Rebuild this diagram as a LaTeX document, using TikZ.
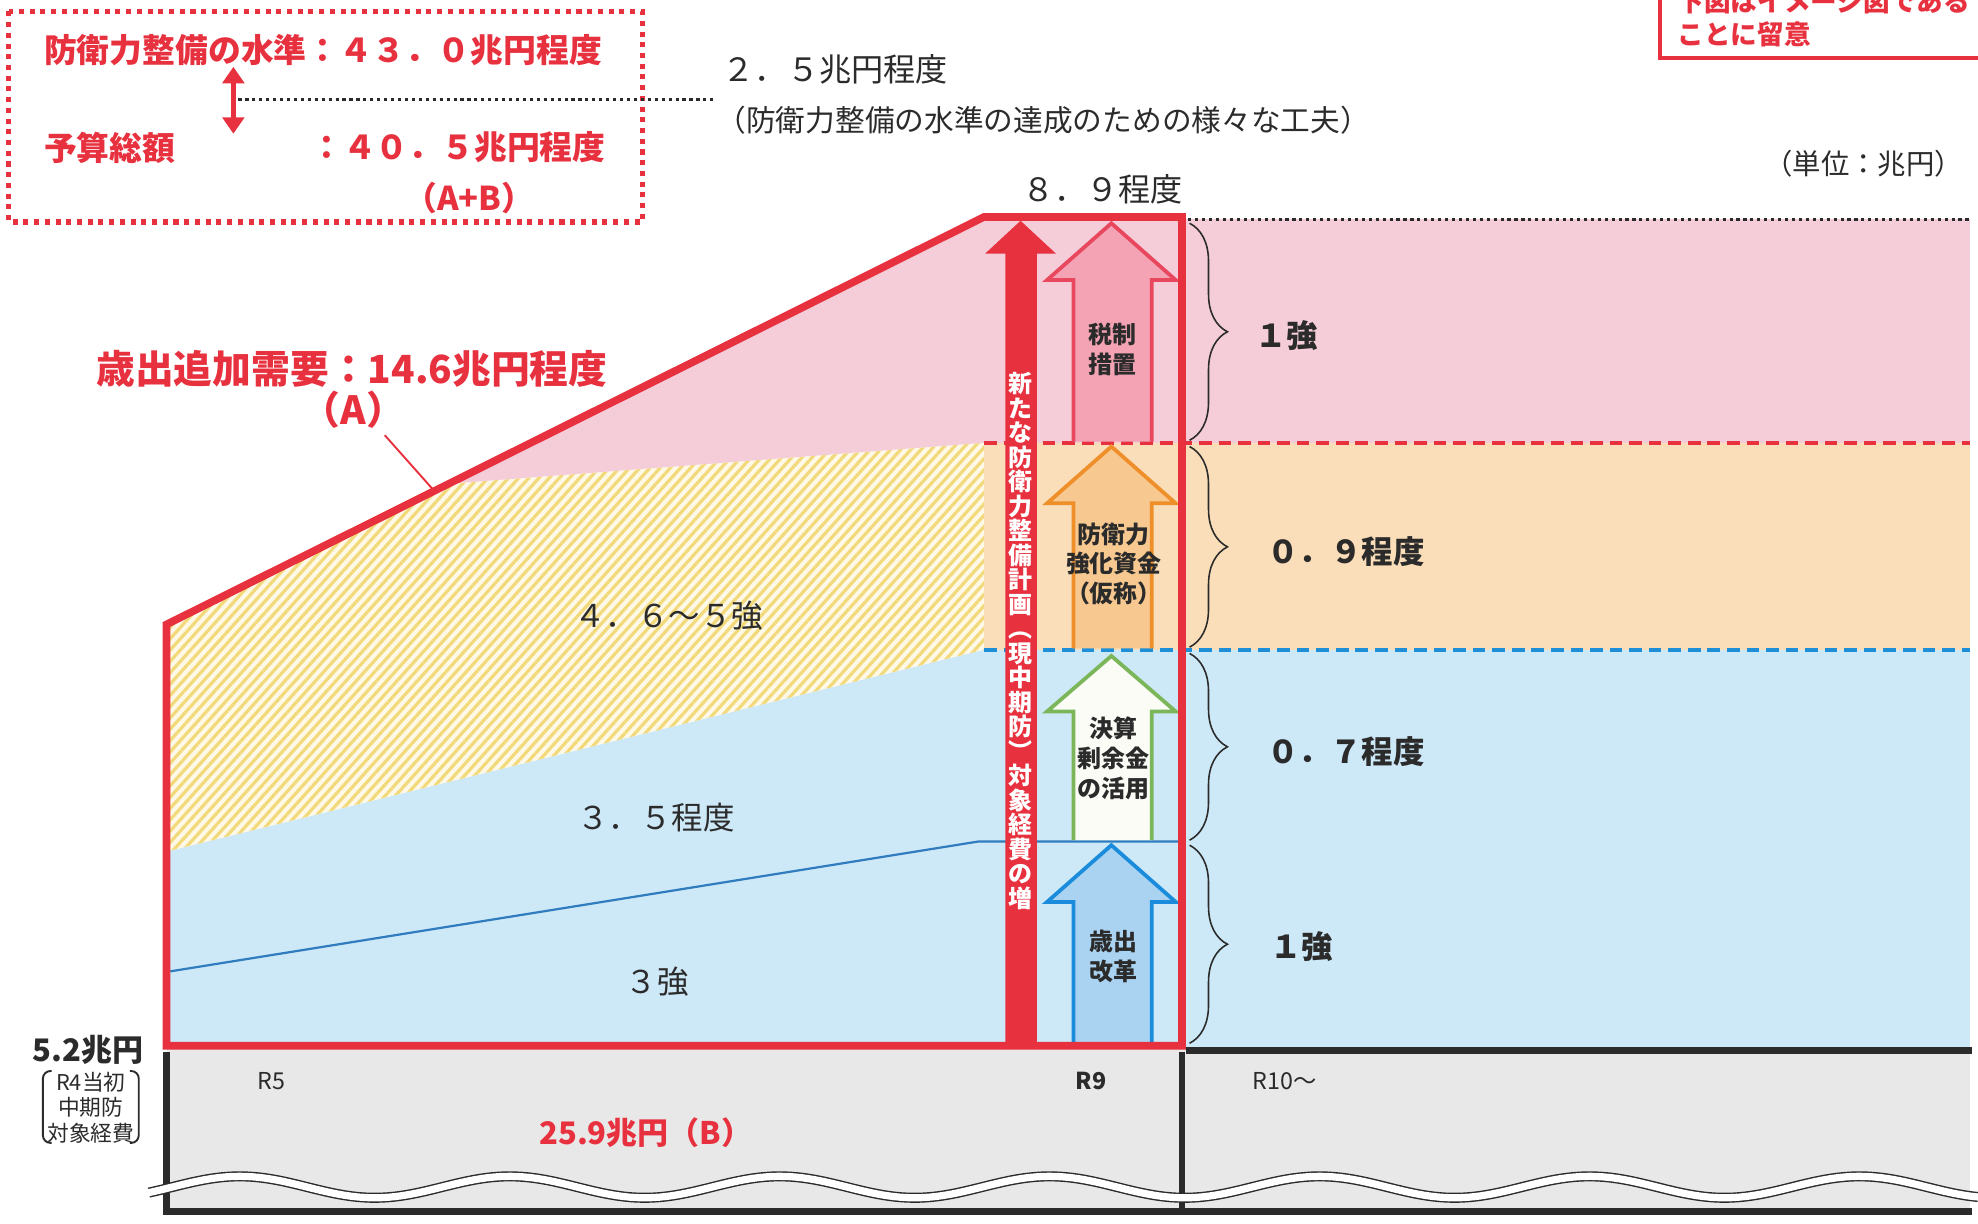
\documentclass[tikz,border=0pt]{standalone}
\usepackage{fontspec}
\setmainfont{Noto Sans CJK JP}
\usetikzlibrary{patterns.meta,decorations.pathreplacing,arrows.meta}
\definecolor{cred}{HTML}{E8313F}
\definecolor{cpink}{HTML}{F4CDD8}
\definecolor{corange}{HTML}{F9DEB9}
\definecolor{cblue}{HTML}{CDE8F7}
\definecolor{ccream}{HTML}{FEF8E6}
\definecolor{cstripe}{HTML}{F2D97A}
\definecolor{cgray}{HTML}{E8E8E8}
\definecolor{cdark}{HTML}{2B2B2B}
\definecolor{cthin}{HTML}{2F7DBE}
\definecolor{cdashblue}{HTML}{1E8FD6}
\definecolor{apinkf}{HTML}{F3A3B3}
\definecolor{apinkd}{HTML}{E8475E}
\definecolor{aorgf}{HTML}{F7C88F}
\definecolor{aorgd}{HTML}{EF8F2A}
\definecolor{agrnf}{HTML}{FAFCF5}
\definecolor{agrnd}{HTML}{7CB65B}
\definecolor{abluf}{HTML}{A9D3F1}
\definecolor{ablud}{HTML}{1A8CDB}
\begin{document}
\begin{tikzpicture}[x=0.2mm,y=-0.2mm,
  txt/.style={inner sep=0pt,outer sep=0pt},
  boxtxt/.style={txt,text=cred,font=\bfseries\fontsize{14.8pt}{17pt}\selectfont},
  arrowlbl/.style={txt,align=center,text=cdark,font=\bfseries\fontsize{10.8pt}{13.4pt}\selectfont},
  rightlbl/.style={txt,text=cdark,font=\bfseries\fontsize{14.2pt}{16pt}\selectfont},
  leftlbl/.style={txt,text=cdark,font=\fontsize{14.2pt}{16pt}\selectfont},
  yearlbl/.style={txt,text=cdark,font=\fontsize{10.5pt}{12pt}\selectfont},
  uparrow/.style={line width=0.6mm,line join=miter},
  bracestyle/.style={cdark,line width=0.25mm,decorate,decoration={brace,amplitude=6mm,aspect=0.5}},
  blackline/.style={cdark,line width=1.1mm}
]
\useasboundingbox (0,0) rectangle (1568,970);
\begin{scope}
\clip (0,0) rectangle (1568,970);
% right bands
\fill[cpink] (780,174) rectangle (1562,351);
\fill[corange] (780,351) rectangle (1562,515);
\fill[cblue] (780,515) rectangle (1562,830);
% left regions
\fill[cblue] (132,675) -- (780,515) -- (780,830) -- (132,830) -- cycle;
\fill[ccream] (132,495) -- (362,383) -- (780,351) -- (780,515) -- (132,675) -- cycle;
\fill[pattern={Lines[angle=48,distance=1.2mm,line width=0.5mm]},pattern color=cstripe]
  (132,495) -- (362,383) -- (780,351) -- (780,515) -- (132,675) -- cycle;
\fill[cpink] (362,383) -- (780,172) -- (780,351) -- cycle;
% gray band
\fill[cgray] (132,830) rectangle (1562,962);
% thin blue line
\draw[cthin,line width=0.35mm] (135,770) -- (776,667) -- (935,667);
% dashed / dotted lines
\draw[cred,line width=0.6mm,dash pattern=on 2mm off 1.1mm] (780,351) -- (1562,351);
\draw[cdashblue,line width=0.6mm,dash pattern=on 2mm off 1.1mm] (780,515) -- (1562,515);
\draw[cdark,line width=0.5mm,dash pattern=on 0.5mm off 0.6mm] (942,174) -- (1562,174);
% big red arrow
\fill[cred] (797,830) -- (797,201) -- (781,201) -- (809,175) -- (837,201) -- (822,201) -- (822,830) -- cycle;
% coloured arrows
\filldraw[uparrow,fill=apinkf,draw=apinkd] (851,350) -- (851,222) -- (830,222) -- (881,177) -- (932,222) -- (913,222) -- (913,350);
\filldraw[uparrow,fill=aorgf,draw=aorgd] (851,514) -- (851,399) -- (830,399) -- (881,354) -- (932,399) -- (913,399) -- (913,514);
\filldraw[uparrow,fill=agrnf,draw=agrnd] (851,666) -- (851,564) -- (830,564) -- (881,520) -- (932,564) -- (913,564) -- (913,666);
\filldraw[uparrow,fill=abluf,draw=ablud] (851,827) -- (851,715) -- (830,715) -- (881,670) -- (932,715) -- (913,715) -- (913,827);
% red outline
\draw[cred,line width=1.2mm,line join=miter] (132,829) -- (132,495) -- (780,172) -- (937,172) -- (937,829) -- cycle;
% black frame of lower band
\draw[blackline] (132,834) -- (132,960) -- (1563,960);
\draw[blackline] (937,834) -- (937,960);
\draw[blackline] (940,833) -- (1563,833);
% wave
\draw[cdark,line width=1.6mm] plot[domain=118:1568,samples=300] (\x,{941-8.5*cos((\x-190)*1.68224)});
\draw[white,line width=1.15mm] plot[domain=112:1575,samples=300] (\x,{941-8.5*cos((\x-190)*1.68224)});
% braces
\draw[bracestyle] (943,177) -- (943,349);
\draw[bracestyle] (943,354) -- (943,513);
\draw[bracestyle] (943,518) -- (943,666);
\draw[bracestyle] (943,670) -- (943,827);
% top-left dotted box
\draw[cred,line width=0.8mm,dash pattern=on 0.8mm off 0.9mm] (7,9) rectangle (509,176);
\node[boxtxt,anchor=west] (t1) at (35,40) {防衛力整備の水準：４３．０兆円程度};
\node[boxtxt,anchor=west] (t2) at (35,117) {予算総額};
\node[boxtxt,anchor=west] (t3) at (246,117) {：４０．５兆円程度};
\node[boxtxt] (t4) at (372,157) {（A+B）};
\coordinate (dA) at (185,53);
\coordinate (dB) at (185,106);
\draw[cred,line width=0.8mm,{Triangle[width=3.4mm,length=2.6mm]}-{Triangle[width=3.4mm,length=2.6mm]}] (dA) -- (dB);
\coordinate (dotS) at (189,79);
\coordinate (dotE) at (565,79);
\draw[cdark,line width=0.5mm,dash pattern=on 0.5mm off 0.6mm] (dotS) -- (dotE);
\node[txt,anchor=west,text=cdark,font=\fontsize{14.5pt}{17pt}\selectfont] (t5) at (573,55) {２．５兆円程度};
\node[txt,anchor=west,text=cdark,font=\fontsize{13.4pt}{16pt}\selectfont] (t6) at (568,95) {（防衛力整備の水準の達成のための様々な工夫）};
% top-right box
\draw[cred,line width=0.6mm] (1316,-20) rectangle (1600,46);
\node[txt,anchor=west,text=cred,font=\bfseries\fontsize{12pt}{14pt}\selectfont] (n0) at (1330,1) {下図はイメージ図である};
\node[txt,anchor=west,text=cred,font=\bfseries\fontsize{12pt}{14pt}\selectfont] (n1) at (1330,27) {ことに留意};
\node[txt,anchor=east,text=cdark,font=\fontsize{12.8pt}{15pt}\selectfont] (t7) at (1556,130) {（単位：兆円）};
\node[txt,text=cdark,font=\fontsize{14.5pt}{17pt}\selectfont] (t8) at (874,150) {８．９程度};
% (A) label
\node[txt,text=cred,font=\bfseries\fontsize{17.5pt}{20pt}\selectfont] (t9) at (279,292) {歳出追加需要：14.6兆円程度};
\node[txt,text=cred,font=\bfseries\fontsize{17.5pt}{20pt}\selectfont] (t10) at (280,325) {（A）};
\coordinate (lA1) at (305,345);
\coordinate (lA2) at (345,390);
\draw[cred,line width=0.3mm] (lA1) -- (lA2);
% arrow labels
\node[arrowlbl] (l1) at (882,277) {税制\\措置};
\node[arrowlbl] (l2) at (883,447) {防衛力\\強化資金\\（仮称）};
\node[arrowlbl] (l3) at (883,601) {決算\\剰余金\\の活用};
\node[arrowlbl] (l4) at (883,758) {歳出\\改革};
\node[txt,align=center,text=white,font=\bfseries\fontsize{10.8pt}{11.05pt}\selectfont] (vt) at (809,508)
  {新\\た\\な\\防\\衛\\力\\整\\備\\計\\画\\︵\\現\\中\\期\\防\\︶\\対\\象\\経\\費\\の\\増};
% right labels
\node[rightlbl] (r1) at (1020,266) {１強};
\node[rightlbl] (r2) at (1067,437) {０．９程度};
\node[rightlbl] (r3) at (1067,596) {０．７程度};
\node[rightlbl] (r4) at (1032,750) {１強};
% left labels
\node[leftlbl] (m1) at (530,488) {４．６～５強};
\node[leftlbl] (m2) at (520,648) {３．５程度};
\node[leftlbl] (m3) at (521,778) {３強};
% bottom labels
\node[txt,text=cdark,font=\bfseries\fontsize{14pt}{16pt}\selectfont] (b1) at (70,832) {5.2兆円};
\node[txt,align=center,text=cdark,font=\fontsize{9.8pt}{11.4pt}\selectfont] (b2) at (72,878) {R4当初\\中期防\\対象経費};
\draw[cdark,line width=0.3mm,rounded corners=1.2mm] (41,849) -- (34,849) -- (34,906) -- (41,906);
\draw[cdark,line width=0.3mm,rounded corners=1.2mm] (103,849) -- (110,849) -- (110,906) -- (103,906);
\node[yearlbl] (b3) at (215,857) {R5};
\node[yearlbl,font=\bfseries\fontsize{10.5pt}{12pt}\selectfont] (b4) at (865,857) {R9};
\node[yearlbl,anchor=west] (b5) at (993,857) {R10〜};
\node[txt,text=cred,font=\bfseries\fontsize{14pt}{16pt}\selectfont] (b6) at (512,898) {25.9兆円（B）};
\end{scope}
\end{tikzpicture}
\end{document}
